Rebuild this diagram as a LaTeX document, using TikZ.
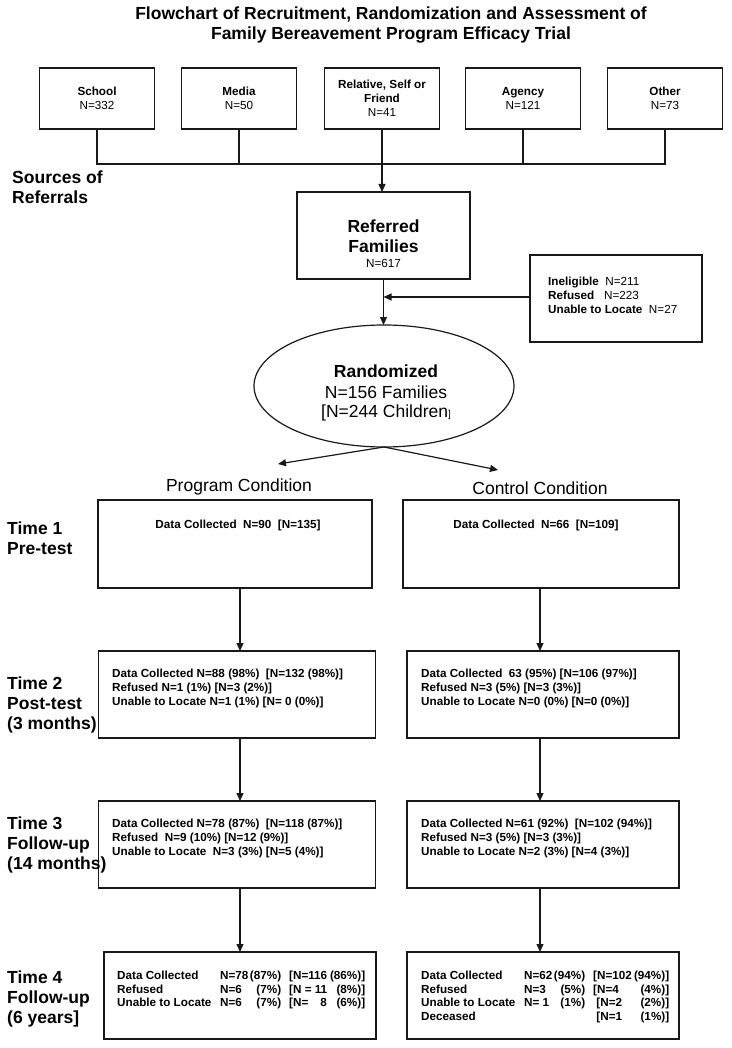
\documentclass[tikz,border=0pt]{standalone}
\usepackage{fontspec}
\setmainfont{Liberation Sans}
\usetikzlibrary{shapes.geometric,arrows.meta}
\newcommand{\sm}{\fontsize{11.7}{14}\selectfont}
\newcommand{\bg}{\fontsize{17.5}{20}\selectfont}
\newcommand{\rowL}[4]{\makebox[103pt][l]{#1}\makebox[30pt][l]{#2}\makebox[31pt][r]{#3}\hspace{8pt}#4}
\begin{document}
\begin{tikzpicture}[x=1pt,y=-1pt,
  box/.style={draw=black!90, line width=1.2pt, inner sep=0pt, outer sep=0pt},
  ln/.style={draw=black!90, line width=1.2pt},
  arr/.style={draw=black!90, line width=1.2pt, -{Triangle[length=8pt,width=7pt]}},
  small/.style={font=\sm, inner sep=0pt},
  big/.style={font=\bg, inner sep=0pt},
  srcbox/.style={box, minimum width=115pt, minimum height=61pt, align=center, font=\sm}]
\useasboundingbox (0,0) rectangle (731,1048);
% title
\node[big, align=center, font=\bg\bfseries] (title) at (391,25) {Flowchart of Recruitment, Randomization and Assessment of\\Family Bereavement Program Efficacy Trial};
% sources
\node[srcbox] (school) at (97,98.5) {\textbf{School}\\N=332};
\node[srcbox] (media) at (239,98.5) {\textbf{Media}\\N=50};
\node[srcbox] (rel) at (382,98.5) {\textbf{Relative, Self or}\\\textbf{Friend}\\N=41};
\node[srcbox] (agency) at (523,98.5) {\textbf{Agency}\\N=121};
\node[srcbox] (other) at (665,98.5) {\textbf{Other}\\N=73};
\coordinate (bus) at (0,164);
\draw[ln] (school.south) |- (bus -| other.south) -- (other.south);
\draw[ln] (media.south) -- (media.south |- bus);
\draw[ln] (agency.south) -- (agency.south |- bus);
\node[big, anchor=west, align=left, font=\bg\bfseries] (srclbl) at (12,187) {Sources of\\Referrals};
% referred
\node[box, minimum width=173pt, minimum height=87pt] (ref) at (383.5,235.5) {};
\node[inner sep=0pt, font=\bg\bfseries, align=center] (reftxt) at (383.5,236) {Referred\\Families};
\node[inner sep=0pt, font=\sm] (refn) at (383.5,263) {N=617};
\draw[arr] (rel.south) -- (rel.south |- ref.north);
% ineligible
\node[box, minimum width=172pt, minimum height=87pt] (inel) at (616,298.5) {};
\node[small, anchor=west, align=left] (ineltxt) at (548,295) {\textbf{Ineligible}\ \ N=211\\\textbf{Refused}\ \ \ N=223\\\textbf{Unable to Locate}\ \ N=27};
% randomized
\node[box, ellipse, minimum width=260pt, minimum height=122pt] (rand) at (384,386) {};
\node[inner sep=0pt, font=\bg\bfseries] (randt1) at (386,371) {Randomized};
\node[inner sep=0pt, font=\bg] (randt2) at (386,392) {N=156 Families};
\node[inner sep=0pt, font=\bg] (randt3) at (386,413) {[N=244 Children{\fontsize{10}{10}\selectfont]}};
\draw[arr] (ref.south) -- (ref.south |- rand.north);
\draw[arr] (inel.west |- 0,297) -- (ref.south |- 0,297);
\coordinate (pc) at (278,464);
\coordinate (cc) at (498,470);
\draw[arr] (rand.south) -- (pc);
\draw[arr] (rand.south) -- (cc);
\node[big] (plbl) at (239,487) {Program Condition};
\node[big] (clbl) at (540,488) {Control Condition};
% time boxes
\coordinate (pcol) at (240,0);
\coordinate (ccol) at (540,0);
\node[box, minimum width=274pt, minimum height=88pt] (p1) at (235,544) {};
\node[box, minimum width=276pt, minimum height=88pt] (c1) at (541,544) {};
\node[box, minimum width=277pt, minimum height=87pt] (p2) at (237,694.5) {};
\node[box, minimum width=272pt, minimum height=87pt] (c2) at (543,694.5) {};
\node[box, minimum width=277pt, minimum height=87pt] (p3) at (237,844.5) {};
\node[box, minimum width=272pt, minimum height=87pt] (c3) at (543,844.5) {};
\node[box, minimum width=272pt, minimum height=87pt] (p4) at (240,995.5) {};
\node[box, minimum width=272pt, minimum height=87pt] (c4) at (543,995.5) {};
\foreach \a/\b in {p1/p2,p2/p3,p3/p4}{\draw[arr] (\a.south -| pcol) -- (\b.north -| pcol);}
\foreach \a/\b in {c1/c2,c2/c3,c3/c4}{\draw[arr] (\a.south -| ccol) -- (\b.north -| ccol);}
% time labels
\node[big, anchor=west, align=left, font=\bg\bfseries] (t1) at (7,538) {Time 1\\Pre-test};
\node[big, anchor=west, align=left, font=\bg\bfseries] (t2) at (7,705) {Time 2\\Post-test\\(3 months)};
\node[big, anchor=west, align=left, font=\bg\bfseries] (t3) at (7,845) {Time 3\\Follow-up\\(14 months)};
\node[big, anchor=west, align=left, font=\bg\bfseries] (t4) at (7,999) {Time 4\\Follow-up\\(6 years]};
% box texts
\node[small, font=\sm\bfseries] (p1t) at (238,525) {Data Collected\ \ N=90\ \ [N=135]};
\node[small, font=\sm\bfseries] (c1t) at (536,525) {Data Collected\ \ N=66\ \ [N=109]};
\node[small, font=\sm\bfseries, anchor=west, align=left] (p2t) at (112,688) {Data Collected N=88 (98\%)\ \ [N=132 (98\%)]\\Refused N=1 (1\%) [N=3 (2\%)]\\Unable to Locate N=1 (1\%) [N= 0 (0\%)]};
\node[small, font=\sm\bfseries, anchor=west, align=left] (c2t) at (421,688) {Data Collected\ \ 63 (95\%) [N=106 (97\%)]\\Refused N=3 (5\%) [N=3 (3\%)]\\Unable to Locate N=0 (0\%) [N=0 (0\%)]};
\node[small, font=\sm\bfseries, anchor=west, align=left] (p3t) at (112,838.5) {Data Collected N=78 (87\%)\ \ [N=118 (87\%)]\\Refused\ \ N=9 (10\%) [N=12 (9\%)]\\Unable to Locate\ \ N=3 (3\%) [N=5 (4\%)]};
\node[small, font=\sm\bfseries, anchor=west, align=left] (c3t) at (421,838.5) {Data Collected N=61 (92\%)\ \ [N=102 (94\%)]\\Refused N=3 (5\%) [N=3 (3\%)]\\Unable to Locate N=2 (3\%) [N=4 (3\%)]};
\node[small, font=\fontsize{11.7}{13.5}\selectfont\bfseries, anchor=west, align=left] (p4t) at (117,990) {%
\rowL{Data Collected}{N=78}{(87\%)}{\makebox[76pt][s]{[N=116\hfill(86\%)]}}\\
\rowL{Refused}{N=6}{(7\%)}{\makebox[76pt][s]{[N = 11\hfill(8\%)]}}\\
\rowL{Unable to Locate}{N=6}{(7\%)}{\makebox[76pt][s]{[N=\hfill8\ \ \ (6\%)]}}};
\node[small, font=\fontsize{11.7}{13.5}\selectfont\bfseries, anchor=west, align=left] (c4t) at (421,997) {%
\rowL{Data Collected}{N=62}{(94\%)}{\makebox[76pt][s]{[N=102\hfill(94\%)]}}\\
\rowL{Refused}{N=3}{(5\%)}{\makebox[76pt][s]{[N=4\hfill(4\%)]}}\\
\rowL{Unable to Locate}{N= 1}{(1\%)}{\makebox[76pt][s]{\ [N=2\hfill(2\%)]}}\\
\rowL{Deceased}{}{}{\makebox[76pt][s]{\ [N=1\hfill(1\%)]}}};
\end{tikzpicture}
\end{document}
